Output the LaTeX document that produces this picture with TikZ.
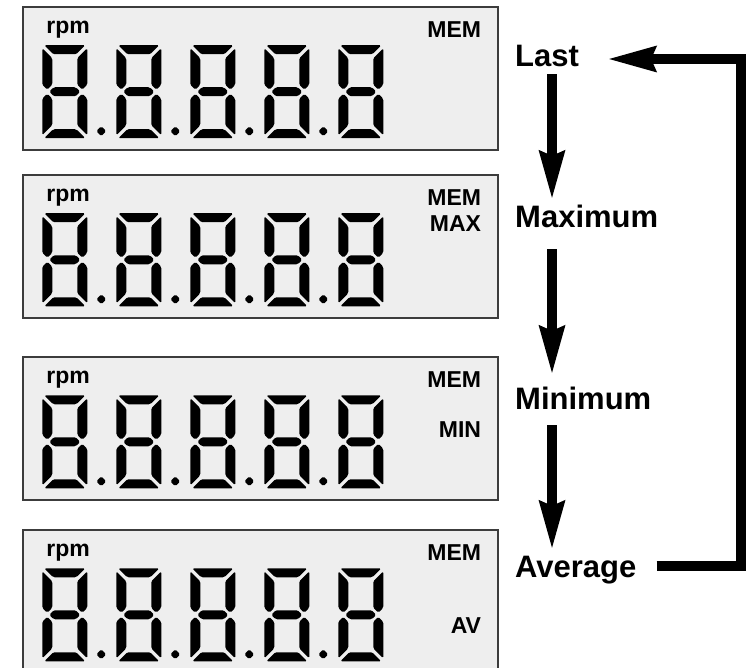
\documentclass[tikz,border=0pt]{standalone}
\usepackage{fontspec}
\setmainfont{Liberation Sans}
\usetikzlibrary{arrows.meta, calc}
\definecolor{lcdbg}{HTML}{EEEEEE}
\definecolor{lcdedge}{HTML}{3C3C3C}

% one seven-segment digit, origin = top left corner
\newcommand{\lcddigit}{%
  \fill[seg]
    (2,0) -- (43,0) -- (34,9) -- (11,9) -- cycle
    (45,3) -- (45,39.5) -- (40,44.5) -- (35,39.5) -- (35,13) -- cycle
    (45,90) -- (45,53.5) -- (40,48.5) -- (35,53.5) -- (35,80) -- cycle
    (2,93) -- (43,93) -- (34,84) -- (11,84) -- cycle
    (0,90) -- (0,53.5) -- (5,48.5) -- (10,53.5) -- (10,80) -- cycle
    (0,3) -- (0,39.5) -- (5,44.5) -- (10,39.5) -- (10,13) -- cycle
    (7,46.5) -- (11.5,42) -- (33.5,42) -- (38,46.5) -- (33.5,51) -- (11.5,51) -- cycle;}
\newcommand{\lcddot}{\fill[seg] (59,81) -- (64,86) -- (59,91) -- (54,86) -- cycle;}

\begin{document}
\begin{tikzpicture}[
    x=1pt, y=-1pt,
    panel/.style={draw=lcdedge, line width=1.5pt, fill=lcdbg, minimum width=475pt, minimum height=143pt, inner sep=0pt},
    seg/.style={fill=black, rounded corners=1.5pt},
    tag/.style={font=\fontsize{23}{23}\selectfont\bfseries, inner sep=0pt},
    stage/.style={font=\fontsize{31}{31}\selectfont\bfseries, inner sep=0pt, text height=22pt, text depth=0pt, anchor=base west},
    flow/.style={line width=10pt, -{Stealth[length=48pt, width=27pt, inset=6pt, line width=0pt]}}
  ]
    \useasboundingbox (0,0) rectangle (746,668);

    % LCD panels
    \foreach \n/\y in {1/7, 2/175, 3/357, 4/530} {
      \node[panel] (panel\n) at (260.5, \y+71.5) {};
      \node[tag, anchor=base west] (rpm\n) at ($(panel\n.north west)+(24,27)$) {rpm};
      \node[tag, anchor=base east] (mem\n) at ($(panel\n.north west)+(459,31)$) {MEM};
      \foreach \k in {0,...,4} {
        \begin{scope}[shift={($(panel\n.north west)+(20+74*\k,39)$)}]
          \lcddigit
          \ifnum\k<4 \lcddot\fi
        \end{scope}
      }
    }
    \node[tag, anchor=base east] (tagmax) at ($(panel2.north west)+(459,57)$) {MAX};
    \node[tag, anchor=base east] (tagmin) at ($(panel3.north west)+(459,81)$) {MIN};
    \node[tag, anchor=base east] (tagav) at ($(panel4.north west)+(459,104)$) {AV};

    % Memory steps
    \node[stage] (last) at (515,67) {Last};
    \node[stage] (max) at (515,228) {Maximum};
    \node[stage] (min) at (515,409) {Minimum};
    \node[stage] (avg) at (515,577) {Average};

    \coordinate (shaft) at (552,0);
    \coordinate (loop) at (741,59);

    % Arrows
    \draw[flow] ($(shaft |- last.south)+(0,7)$) -- ($(shaft |- max.north)+(0,-8)$);
    \draw[flow] ($(shaft |- max.south)+(0,21)$) -- ($(shaft |- min.north)+(0,-14)$);
    \draw[flow] ($(shaft |- min.south)+(0,16)$) -- ($(shaft |- avg.north)+(0,-7)$);
    \draw[flow, line join=miter] ($(avg.east)+(20,0)$) -| (loop) -- ($(last.east |- loop)+(30,0)$);
\end{tikzpicture}
\end{document}
